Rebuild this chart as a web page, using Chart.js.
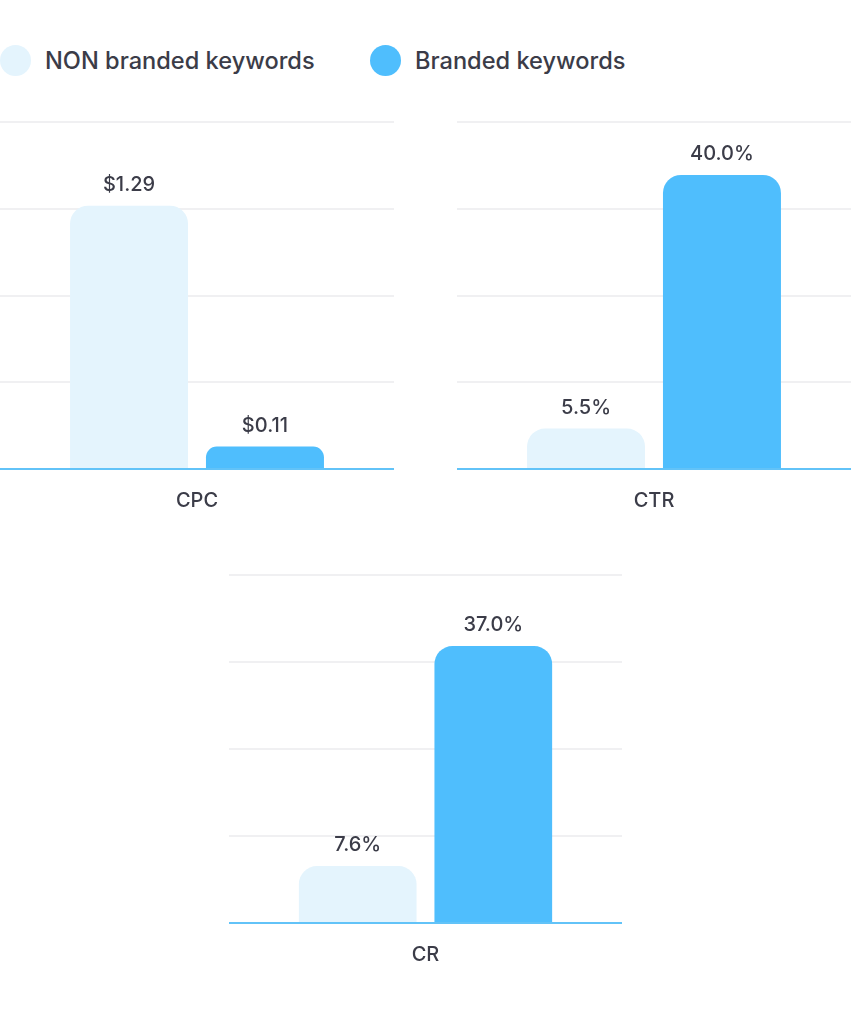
<!DOCTYPE html>
<html>
<head>
<meta charset="utf-8">
<script src="https://cdn.jsdelivr.net/npm/chart.js@4.4.1/dist/chart.umd.min.js"></script>
<style>
  html, body { margin: 0; padding: 0; background: #ffffff; }
  body { width: 851px; height: 1024px; position: relative; overflow: hidden; font-family: Inter, "Noto Sans", sans-serif; }
  .legend { position: absolute; top: 45px; left: 0; height: 32px; }
  .item { position: absolute; top: 0; white-space: nowrap; font-size: 23.6px; font-weight: 500; color: #3b3c48; line-height: 32px; }
  .dot { position: absolute; top: 0; width: 31px; height: 31px; border-radius: 50%; }
  .box { position: absolute; }
</style>
</head>
<body>
<div class="legend">
  <div class="dot" id="dot0" style="left:0px;"></div>
  <div class="item" id="lab0" style="left:45px;"></div>
  <div class="dot" id="dot1" style="left:370px;"></div>
  <div class="item" id="lab1" style="left:415px;"></div>
</div>
<div class="box" style="left:0px; top:100px; width:394px; height:440px;"><canvas id="c0"></canvas></div>
<div class="box" style="left:457px; top:100px; width:394px; height:440px;"><canvas id="c1"></canvas></div>
<div class="box" style="left:229px; top:553px; width:393px; height:440px;"><canvas id="c2"></canvas></div>
<script>
// ---- data ----
const seriesNames = ["NON branded keywords", "Branded keywords"];
const metrics = ["CPC", "CTR", "CR"];
const nonBranded = [1.29, 5.5, 7.6];
const branded = [0.11, 40.0, 37.0];
const nonBrandedLabels = ["$1.29", "5.5%", "7.6%"];
const brandedLabels = ["$0.11", "40.0%", "37.0%"];
const axisMax = [1.7, 47.2, 46.5];

// ---- styles ----
const colors = ["#e4f4fd", "#4fbefd"];
const textColor = "#3b3c48";
const fontFamily = "Inter, 'Noto Sans', sans-serif";

document.getElementById("dot0").style.background = colors[0];
document.getElementById("dot1").style.background = colors[1];
document.getElementById("lab0").textContent = seriesNames[0];
document.getElementById("lab1").textContent = seriesNames[1];

const valueLabels = {
  id: "valueLabels",
  afterDatasetsDraw(chart) {
    const ctx = chart.ctx;
    const texts = chart.options.plugins.valueLabels.texts;
    ctx.save();
    ctx.font = "500 20px " + fontFamily;
    ctx.fillStyle = textColor;
    ctx.textAlign = "center";
    ctx.textBaseline = "middle";
    chart.data.datasets.forEach((ds, di) => {
      const meta = chart.getDatasetMeta(di);
      meta.data.forEach((bar) => {
        ctx.fillText(texts[di], bar.x, bar.y - 21);
      });
    });
    ctx.restore();
  }
};

function makeChart(id, i, axisH) {
  new Chart(document.getElementById(id), {
    type: "bar",
    data: {
      labels: [metrics[i]],
      datasets: [
        { label: seriesNames[0], data: [nonBranded[i]], backgroundColor: colors[0] },
        { label: seriesNames[1], data: [branded[i]], backgroundColor: colors[1] }
      ]
    },
    options: {
      responsive: true,
      maintainAspectRatio: false,
      animation: false,
      layout: { padding: { top: 22, left: 0, right: 0, bottom: 0 } },
      datasets: {
        bar: {
          categoryPercentage: 0.69,
          barPercentage: 0.868,
          borderRadius: 18,
          borderSkipped: "start"
        }
      },
      plugins: {
        legend: { display: false },
        tooltip: { enabled: false },
        valueLabels: { texts: [nonBrandedLabels[i], brandedLabels[i]] }
      },
      scales: {
        x: {
          grid: { display: false, drawTicks: false },
          border: { display: true, color: "#62c3f8", width: 2 },
          ticks: { color: textColor, font: { size: 20, weight: "500", family: fontFamily }, padding: 20 },
          afterFit(scale) { scale.height = axisH; }
        },
        y: {
          min: 0,
          max: axisMax[i],
          ticks: { display: false, stepSize: axisMax[i] / 4 },
          border: { display: false },
          grid: {
            drawTicks: false,
            lineWidth: 2,
            color: (c) => (c.tick && c.tick.value === 0 ? "rgba(0,0,0,0)" : "#f0f0f2")
          },
          afterFit(scale) { scale.width = 0; }
        }
      }
    },
    plugins: [valueLabels]
  });
}

makeChart("c0", 0, 71);
makeChart("c1", 1, 71);
makeChart("c2", 2, 70);
</script>
</body>
</html>
